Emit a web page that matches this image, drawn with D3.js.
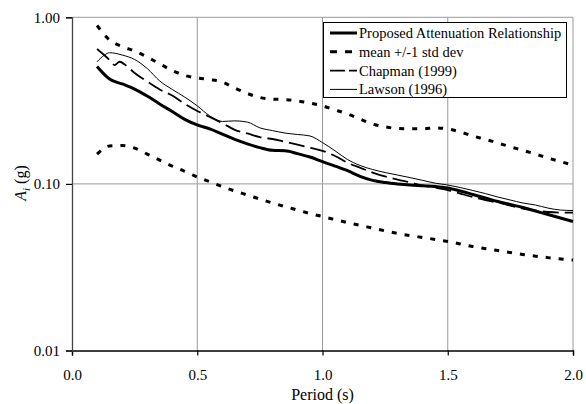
<!DOCTYPE html>
<html><head><meta charset="utf-8">
<script src="https://cdn.jsdelivr.net/npm/d3@7"></script>
<style>
body{margin:0;background:#fff;}
svg text{font-family:"Liberation Serif","Times New Roman",serif !important;fill:#000;}
</style></head>
<body><svg id="c" width="586" height="404"></svg>
<script>
const seriesNames = ["Proposed Attenuation Relationship","mean +/-1 std dev","Chapman (1999)","Lawson (1996)"];
const xTicks = [0, 0.5, 1.0, 1.5, 2.0];
const yTicks = [0.01, 0.1, 1.0];

const proposedT = [0.10,0.15,0.20,0.25,0.30,0.35,0.40,0.45,0.50,0.55,0.60,0.65,0.70,0.75,0.80,0.85,0.90,0.95,1.00,1.05,1.10,1.15,1.20,1.25,1.30,1.35,1.40,1.45,1.50,1.55,1.60,1.65,1.70,1.75,1.80,1.85,1.90,1.95,2.00];
const proposedA = [0.507,0.426,0.398,0.371,0.337,0.302,0.272,0.244,0.226,0.214,0.199,0.185,0.174,0.165,0.159,0.158,0.152,0.145,0.136,0.128,0.120,0.111,0.105,0.102,0.100,0.0985,0.0975,0.0965,0.0945,0.0906,0.0864,0.0823,0.0784,0.0752,0.0722,0.0688,0.0655,0.0624,0.0595];

const upperT = proposedT;
const upperA = [0.893,0.731,0.668,0.628,0.578,0.525,0.480,0.448,0.432,0.423,0.409,0.376,0.349,0.330,0.323,0.321,0.315,0.306,0.294,0.278,0.263,0.245,0.229,0.220,0.215,0.214,0.214,0.217,0.214,0.205,0.194,0.185,0.176,0.167,0.159,0.151,0.143,0.136,0.130];

const lowerT = [0.10,0.15,0.20,0.25,0.30,0.35,0.40,0.45,0.50,0.55,0.60,0.65,0.70,0.75,0.80,0.85,0.90,0.95,1.00,1.10,1.20,1.30,1.40,1.50,1.60,1.70,1.80,1.90,2.00];
const lowerA = [0.151,0.169,0.170,0.164,0.151,0.139,0.128,0.119,0.110,0.103,0.0964,0.0906,0.0858,0.0811,0.0768,0.0731,0.0697,0.0664,0.0637,0.0586,0.0543,0.0504,0.0477,0.0451,0.0421,0.0398,0.0377,0.0361,0.0349];

const chapmanT = [0.10,0.15,0.17,0.19,0.22,0.25,0.30,0.35,0.40,0.45,0.50,0.55,0.60,0.65,0.70,0.75,0.80,0.85,0.90,0.95,1.00,1.05,1.10,1.15,1.20,1.25,1.30,1.35,1.40,1.45,1.50,1.55,1.60,1.65,1.70,1.75,1.80,1.85,1.90,1.95,2.00];
const chapmanA = [0.645,0.554,0.517,0.541,0.507,0.463,0.412,0.369,0.339,0.302,0.274,0.252,0.232,0.211,0.201,0.191,0.186,0.179,0.172,0.165,0.158,0.147,0.134,0.125,0.117,0.111,0.106,0.102,0.0977,0.0950,0.0919,0.0875,0.0834,0.0800,0.0773,0.0741,0.0711,0.0692,0.0678,0.0673,0.0673];

const lawsonT = [0.10,0.13,0.15,0.20,0.25,0.30,0.35,0.40,0.45,0.50,0.55,0.60,0.65,0.70,0.75,0.80,0.85,0.90,0.95,1.00,1.05,1.10,1.15,1.20,1.25,1.30,1.35,1.40,1.45,1.50,1.55,1.60,1.65,1.70,1.75,1.80,1.85,1.90,1.95,2.00];
const lawsonA = [0.541,0.594,0.613,0.594,0.558,0.493,0.415,0.369,0.332,0.294,0.256,0.237,0.239,0.235,0.217,0.209,0.202,0.198,0.194,0.177,0.158,0.140,0.129,0.122,0.117,0.113,0.109,0.105,0.101,0.0985,0.0951,0.0913,0.0875,0.0834,0.0800,0.0768,0.0747,0.0716,0.0697,0.0692];

const FONT = "Liberation Serif, serif";
const svg = d3.select("#c").attr("font-family", FONT);
const L = 72, R = 573, T = 17.3, B = 350.5;
const x = d3.scaleLinear().domain([0, 2]).range([L, R]);
const y = d3.scaleLog().domain([0.01, 1]).range([B, T]);

// gridlines
const grid = svg.append("g");
grid.selectAll("line.v").data(xTicks.filter(d => d > 0)).join("line")
  .attr("x1", d => x(d)).attr("x2", d => x(d)).attr("y1", T).attr("y2", B)
  .attr("stroke", "#9a9a9a").attr("stroke-width", 1);
grid.selectAll("line.h").data(yTicks.filter(d => d > 0.01)).join("line")
  .attr("x1", L).attr("x2", R).attr("y1", d => y(d)).attr("y2", d => y(d))
  .attr("stroke", "#9a9a9a").attr("stroke-width", 1);

// axes
const xAxis = d3.axisBottom(x).tickValues(xTicks).tickFormat(d3.format(".1f")).tickSize(5).tickPadding(14);
const yAxis = d3.axisLeft(y).tickValues(yTicks).tickFormat(d3.format(".2f")).tickSize(6).tickPadding(6);
const gx = svg.append("g").attr("transform", `translate(0,${B})`).call(xAxis);
const gy = svg.append("g").attr("transform", `translate(${L},0)`).call(yAxis);
[gx, gy].forEach(g => {
  g.attr("font-family", FONT).attr("font-size", 15);
  g.select(".domain").attr("stroke", "#000").attr("stroke-width", 1.3);
  g.selectAll(".tick line").attr("stroke", "#000").attr("stroke-width", 1.2);
  g.selectAll("text").attr("fill", "#000");
});
gy.select(".domain").attr("stroke", "#444");

// axis titles
svg.append("text").attr("x", (L + R) / 2).attr("y", 400).attr("text-anchor", "middle")
  .attr("font-size", 16).text("Period (s)");
const yt = svg.append("text").attr("transform", "translate(26,183) rotate(-90)").attr("text-anchor", "middle")
  .attr("font-size", 16);
yt.append("tspan").attr("font-style", "italic").text("A");
yt.append("tspan").attr("font-style", "italic").attr("font-size", 11).attr("dy", 4).text("i");
yt.append("tspan").attr("dy", -4).text(" (g)");

// lines
const line = d3.line().x(d => x(d[0])).y(d => y(d[1])).curve(d3.curveMonotoneX);
const zip = (a, b) => a.map((t, i) => [t, b[i]]);
const styles = {
  proposed: {w: 3, dash: null},
  std: {w: 3, dash: "5,8"},
  chapman: {w: 1.8, dash: "16,6"},
  lawson: {w: 1, dash: null}
};
const series = [
  {d: zip(upperT, upperA), s: styles.std},
  {d: zip(lowerT, lowerA), s: styles.std},
  {d: zip(lawsonT, lawsonA), s: styles.lawson},
  {d: zip(chapmanT, chapmanA), s: styles.chapman},
  {d: zip(proposedT, proposedA), s: styles.proposed}
];
svg.append("g").selectAll("path").data(series).join("path")
  .attr("d", d => line(d.d)).attr("fill", "none").attr("stroke", "#000")
  .attr("stroke-width", d => d.s.w).attr("stroke-dasharray", d => d.s.dash);

// legend
const lg = svg.append("g");
lg.append("rect").attr("x", 323.5).attr("y", 22.5).attr("width", 243).attr("height", 75)
  .attr("fill", "#fff").attr("stroke", "#000").attr("stroke-width", 1);
const legStyles = [styles.proposed, {w: 3, dash: "7,8"}, {w: 1.8, dash: "15,4"}, styles.lawson];
seriesNames.forEach((n, i) => {
  const yy = 33 + i * 18.8;
  lg.append("line").attr("x1", 330).attr("x2", 357).attr("y1", yy).attr("y2", yy)
    .attr("stroke", "#000").attr("stroke-width", legStyles[i].w).attr("stroke-dasharray", legStyles[i].dash);
  lg.append("text").attr("x", 359).attr("y", yy).attr("dy", "0.35em").attr("font-size", 14.5).text(n);
});
</script></body></html>
